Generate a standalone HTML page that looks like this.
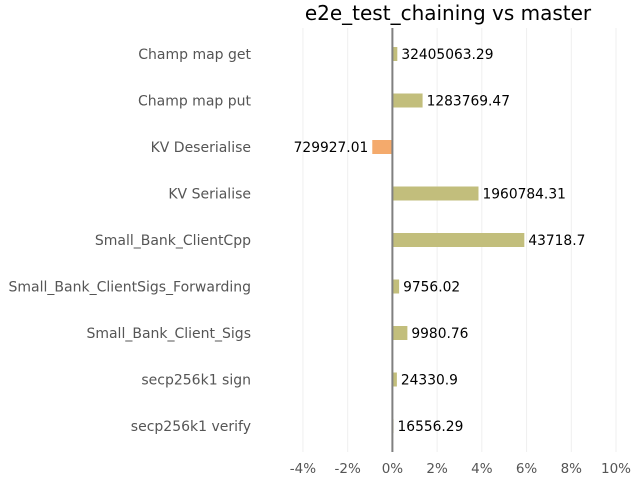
<!DOCTYPE html>
<html><head><meta charset="utf-8"><style>
body{margin:0;background:#fff;}
svg text{font-family:"DejaVu Sans","Liberation Sans",sans-serif;}
</style></head><body>
<svg id="chart" width="640" height="480" xmlns="http://www.w3.org/2000/svg">
<text x="448" y="20" font-size="20" text-anchor="middle" fill="#000">e2e_test_chaining vs master</text>
<g id="grid"></g><g id="bars"></g><g id="labels"></g>
</svg>
<script>
const categories=["Champ map get","Champ map put","KV Deserialise","KV Serialise","Small_Bank_ClientCpp","Small_Bank_ClientSigs_Forwarding","Small_Bank_Client_Sigs","secp256k1 sign","secp256k1 verify"];
const changes=[0.22,1.35,-0.9,3.85,5.9,0.3,0.67,0.2,0.05];
const valueLabels=["32405063.29","1283769.47","729927.01","1960784.31","43718.7","9756.02","9980.76","24330.9","16556.29"];
const ticks=[-4,-2,0,2,4,6,8,10];
const NS="http://www.w3.org/2000/svg";
const x=v=>392.4+v*22.36;
const y=i=>54+i*46.5;
function mk(t,a,p,txt){const e=document.createElementNS(NS,t);for(const k in a)e.setAttribute(k,a[k]);if(txt!==undefined)e.textContent=txt;p.appendChild(e);return e;}
const grid=document.getElementById('grid'),bars=document.getElementById('bars'),labels=document.getElementById('labels');
ticks.forEach(t=>{
 const l=mk('line',{x1:x(t),x2:x(t),y1:28,y2:452,stroke:'#efefef','stroke-width':1},grid);
 
 
 const tx=mk('text',{x:x(t),y:473,'font-size':13.5,'text-anchor':'middle',fill:'#555'},labels,t+'%');
 
 
});
categories.forEach((c,i)=>{
 const v=changes[i];
 const x0=Math.min(x(0),x(v)),w=Math.abs(x(v)-x(0));
 const r=mk('rect',{x:x0,y:y(i)-7,width:w,height:14,fill:v<0?'#f4aa6c':'#c2be7c'},bars);
 
 
 const cl=mk('text',{x:251,y:y(i)+5,'font-size':14,'text-anchor':'end',fill:'#555'},labels,c);
 
 
 const vl=mk('text',{x:v<0?x(v)-4:x(v)+4,y:y(i)+5,'font-size':13.8,'text-anchor':v<0?'end':'start',fill:'#000'},labels,valueLabels[i]);
 
 
});
const z=mk('line',{x1:x(0),x2:x(0),y1:28,y2:452,stroke:'#808080','stroke-width':2},bars);


</script>
</body></html>
